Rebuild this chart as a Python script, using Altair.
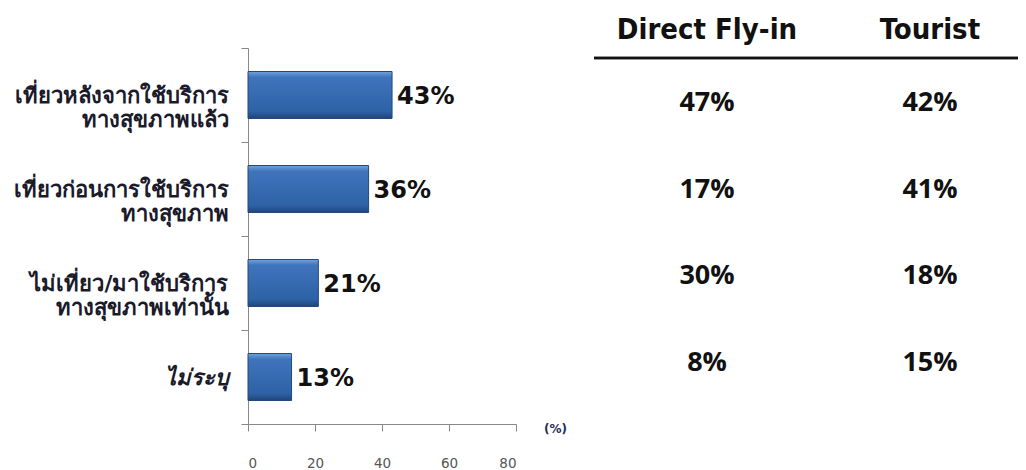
import altair as alt
import pandas as pd

categories = [
    "เที่ยวหลังจากใช้บริการ\nทางสุขภาพแล้ว",
    "เที่ยวก่อนการใช้บริการ\nทางสุขภาพ",
    "ไม่เที่ยว/มาใช้บริการ\nทางสุขภาพเท่านั้น",
    "ไม่ระบุ",
]
values = [43, 36, 21, 13]
columns = ["Direct Fly-in", "Tourist"]
fly_in = [47, 17, 30, 8]
tourist = [42, 41, 18, 15]
x_ticks = [0, 20, 40, 60, 80]

bars_df = pd.DataFrame({"category": categories, "value": values})
rows = []
for c, a, b in zip(categories, fly_in, tourist):
    rows.append({"category": c, "column": columns[0], "value": a})
    rows.append({"category": c, "column": columns[1], "value": b})
table_df = pd.DataFrame(rows)
header_df = pd.DataFrame({"column": columns})

FONT = "Tahoma, DejaVu Sans, sans-serif"

xscale = alt.Scale(domain=[0, 80], range=[0, 268], nice=False)
yscale = alt.Scale(domain=categories, range=[0, 376], paddingInner=0, paddingOuter=0)

gradient = alt.Gradient(
    gradient="linear", x1=0, x2=0, y1=0, y2=1,
    stops=[
        alt.GradientStop(offset=0, color="#74a3dc"),
        alt.GradientStop(offset=0.12, color="#3f74bd"),
        alt.GradientStop(offset=0.85, color="#2e62a6"),
        alt.GradientStop(offset=1, color="#1f4575"),
    ],
)

x_enc = alt.X(
    "value:Q", scale=xscale,
    axis=alt.Axis(
        values=x_ticks, grid=False, tickSize=7, tickColor="#888", domainColor="#888",
        labelPadding=25, labelFontSize=13.5, labelColor="#555", labelFont="DejaVu Sans",
        title="(%)", titleX=307, titleY=4, titleAlign="center", titleBaseline="middle",
        titleFontSize=12, titleFont="DejaVu Sans", titleColor="#1f2d5a", titleFontWeight="bold",
    ),
)
y_enc = alt.Y(
    "category:N", scale=yscale, sort=categories,
    axis=alt.Axis(
        title=None, tickBand="extent", tickSize=7, tickColor="#888", domainColor="#888",
        labelPadding=13, labelFontSize=22, labelFontWeight="bold", labelFont=FONT,
        labelColor="#1a1a2a", labelLineHeight=24, labelLimit=400,
        labelExpr="isValid(datum.value) ? split(datum.value, '\\n') : ''",
        labelFontStyle=alt.ConditionalAxisLabelFontStyle(
            condition={"test": "datum.value == 'ไม่ระบุ'", "value": "italic"}, value="normal"
        ),
    ),
)

bars = alt.Chart(bars_df).mark_bar(
    height={"band": 0.5}, color=gradient, stroke="#24497a", strokeWidth=1
).encode(x=x_enc, y=y_enc)

bar_text = alt.Chart(bars_df).transform_calculate(
    lbl="datum.value + '%'"
).mark_text(
    align="left", baseline="middle", dx=5, dy=2, fontSize=24, fontWeight="bold",
    font=FONT, color="#111"
).encode(
    x=alt.X("value:Q", scale=xscale, axis=None),
    y=alt.Y("category:N", scale=yscale, sort=categories, axis=None),
    text="lbl:N",
)

col_scale = alt.Scale(type="point", domain=columns, range=[459, 682], padding=0)
row_scale = alt.Scale(type="point", domain=categories, range=[55, 315], padding=0)

table = alt.Chart(table_df).transform_calculate(
    lbl="datum.value + '%'"
).mark_text(
    align="center", baseline="middle", fontSize=27, fontWeight="bold",
    font="Open Sans, Lato, sans-serif", color="#111"
).encode(
    x=alt.X("column:N", scale=col_scale, axis=None),
    y=alt.Y("category:N", scale=row_scale, axis=None),
    text="lbl:N",
)

header = alt.Chart(header_df).mark_text(
    align="center", baseline="middle", fontSize=29, fontWeight="bold",
    font="DejaVu Sans Condensed, DejaVu Sans, sans-serif", color="#111"
).encode(
    x=alt.X("column:N", scale=col_scale, axis=None),
    y=alt.value(-18),
    text="column:N",
)

header_rule = alt.Chart(header_df).mark_rule(color="#111", strokeWidth=2.5).encode(
    x=alt.value(346), x2=alt.value(780), y=alt.value(10)
)

chart = alt.layer(bars, bar_text, table, header, header_rule).resolve_scale(
    x="independent", y="independent"
).properties(
    width=770, height=376,
    autosize=alt.AutoSizeParams(type="none"),
    padding={"left": 240, "top": 40, "right": 0, "bottom": 46},
).configure_view(stroke=None)

chart.save("out.html", embed_options={"renderer": "svg", "actions": False})
